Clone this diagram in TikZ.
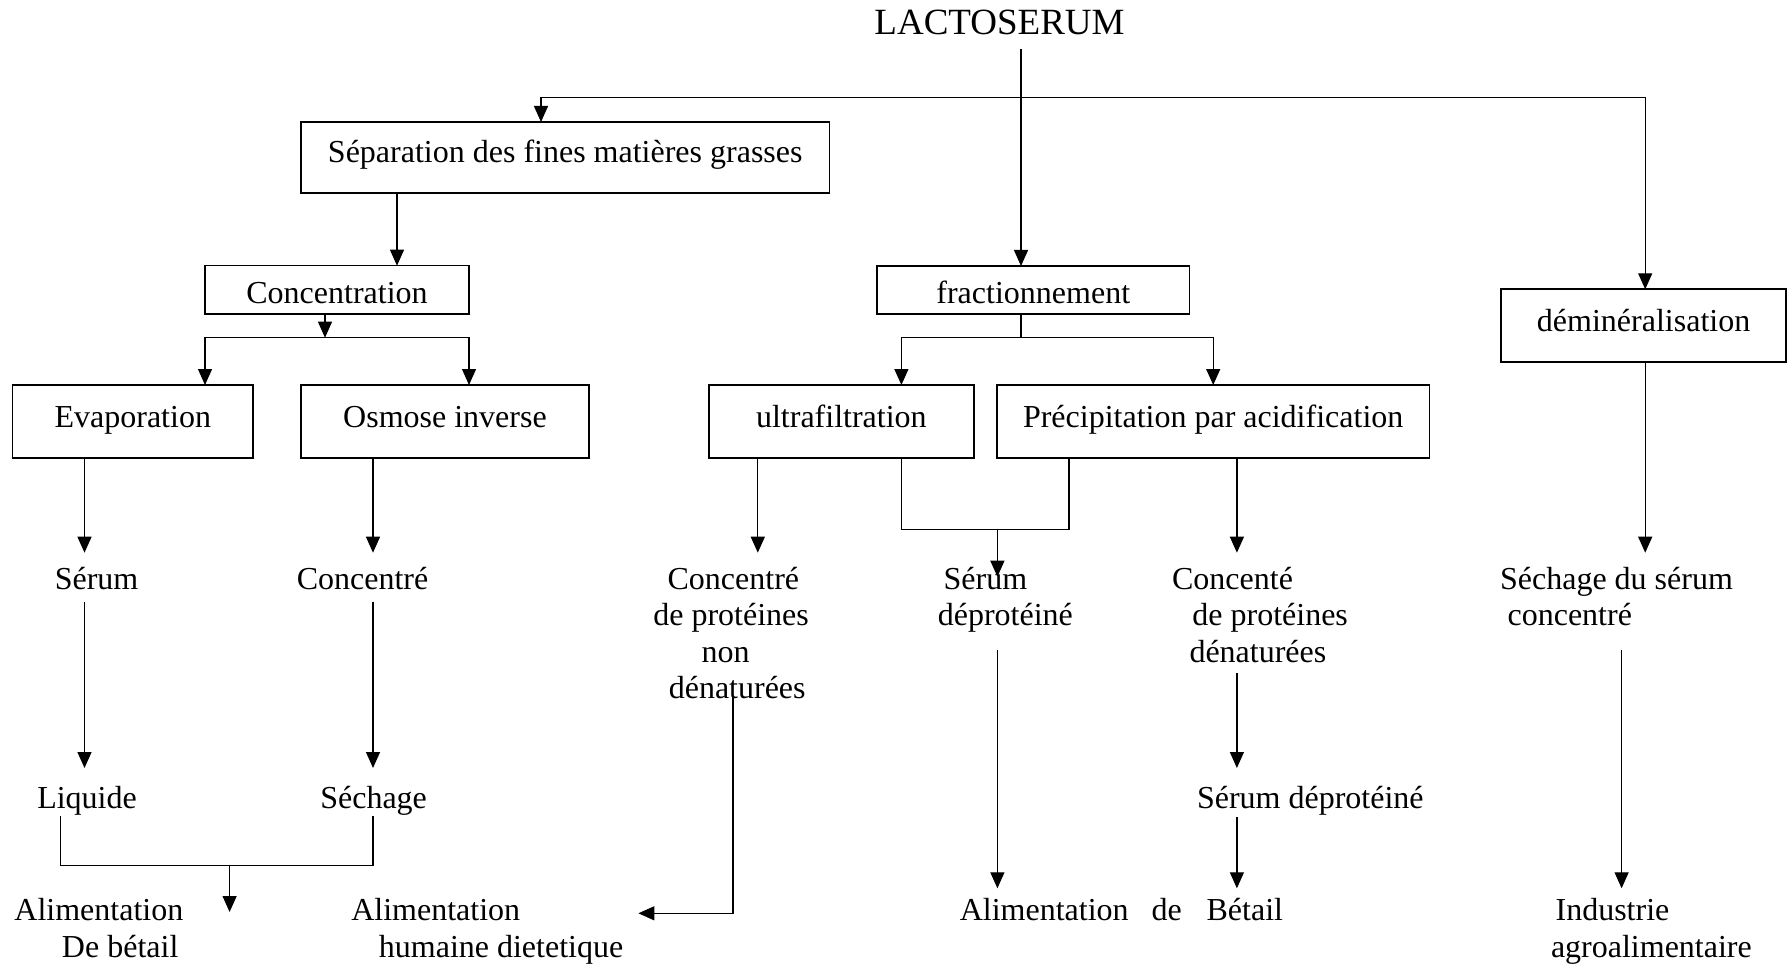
\documentclass[tikz,border=0pt]{standalone}
\usepackage{fontspec}
\setmainfont{Liberation Serif}
\usetikzlibrary{arrows.meta}
% fixed line strut: 24pt above, 8pt below the baseline
\newcommand\Lstr{\rule[-8pt]{0pt}{32pt}}

\begin{document}
\begin{tikzpicture}[x=1pt,y=-1pt,
  every node/.style={font=\fontsize{32pt}{36.5pt}\selectfont},
  box/.style={draw, line width=1.6pt, inner sep=0pt, outer sep=0pt, anchor=north west,
              text height=42pt, text depth=30.7pt},
  lbl/.style={inner sep=0pt, outer sep=0pt, anchor=north west, align=left},
  ln/.style={line width=1.3pt},
  arr/.style={ln, -{Triangle[length=16pt,width=14pt]}},
  arrs/.style={ln, {Triangle[length=16pt,width=14pt]}-{Triangle[length=16pt,width=14pt]}},
]
\useasboundingbox (0,0) rectangle (1787,965);

% ---------- title ----------
\node[inner sep=0pt, outer sep=0pt, anchor=base, font=\fontsize{37pt}{40pt}\selectfont]
  (lacto) at (999.5,35) {\Lstr LACTOSERUM};

% ---------- process boxes ----------
\node[box, minimum width=528.5pt, text height=40.7pt, text depth=30.3pt] (sep) at (301,122)
  {Séparation des fines matières grasses\hspace{14pt}};
\node[box, minimum width=264pt, text height=38.3pt, text depth=10pt] (conc) at (205,265.7) {Concentration};
\node[box, minimum width=312.5pt, text height=38pt, text depth=10pt] (frac) at (877,266) {fractionnement};
\node[box, minimum width=284.8pt, text height=42.4pt, text depth=30pt] (demin) at (1501.2,289.3) {déminéralisation};
\node[box, minimum width=240.4pt] (evap) at (12.6,385) {Evaporation};
\node[box, minimum width=288pt] (osm) at (301,385) {Osmose inverse};
\node[box, minimum width=264.7pt] (ultra) at (709,385) {ultrafiltration};
\node[box, minimum width=432.7pt] (prec) at (996.8,385) {Précipitation par acidification\hspace{12pt}};

% ---------- products ----------
\node[lbl] (serum1) at (54.8,565) {\Lstr Sérum};
\node[lbl] (conc1) at (296.8,565) {\Lstr Concentré};
\node[lbl] (cpn) at (653.3,565) {\Lstr\hspace*{14.3pt}Concentré\\ \Lstr de protéines\\
  \Lstr\hspace*{48.2pt}non\\ \Lstr\hspace*{15.5pt}dénaturées};
\node[lbl] (serum2) at (937.8,565) {\Lstr\hspace*{5.8pt}Sérum\\ \Lstr déprotéiné};
\node[lbl] (cpd) at (1172.1,565) {\Lstr Concenté\\ \Lstr\hspace*{20.3pt}de protéines\\
  \Lstr\hspace*{17.4pt}dénaturées};
\node[lbl] (sech) at (1500.1,565) {\Lstr Séchage du sérum\\ \Lstr\hspace*{7.5pt}concentré};

\node[lbl] (liq) at (37.3,784) {\Lstr Liquide};
\node[lbl] (sechage) at (320.3,784) {\Lstr Séchage};
\node[lbl] (sdp) at (1197,784) {\Lstr Sérum déprotéiné};

\node[lbl] (alim1) at (14.4,896.7) {\Lstr Alimentation\\ \Lstr\hspace*{47.6pt}De bétail};
\node[lbl] (alim2) at (351.3,896.7) {\Lstr Alimentation\\ \Lstr\hspace*{27.6pt}humaine dietetique};
\node[lbl] (alim3) at (959.8,896.7) {\Lstr Alimentation\hspace{23pt}de\hspace{24.7pt}Bétail};
\node[lbl] (ind) at (1551,896.7) {\Lstr\hspace*{4.6pt}Industrie\\ \Lstr agroalimentaire};

% ---------- junction points ----------
\coordinate (tl) at (541,97.5);
\coordinate (tr) at (1645.2,97.5);
\coordinate (cj) at (325,337.7);
\coordinate (fj) at (1021,337.7);
\coordinate (fl) at (901.4,337.7);
\coordinate (fr) at (1213.2,337.7);
\coordinate (bl) at (901.4,529.3);
\coordinate (br) at (1069.1,529.3);
\coordinate (bm) at (997.4,529.3);
\coordinate (ll) at (60.8,865.7);
\coordinate (lr) at (373,865.7);
\coordinate (lm) at (229.6,865.7);

% ---------- top level ----------
\draw[arr, shorten <=6pt] (lacto.south -| fj) -- (frac.north -| fj);
\draw[arrs] (sep.north -| tl) -- (tl) -- (tr) -- (demin.north -| tr);

% ---------- concentration branch ----------
\draw[arr] (sep.south -| 397,0) -- (conc.north -| 397,0);
\draw[arr] (conc.south -| cj) -- (cj);
\draw[arrs] (evap.north -| conc.west) -- (cj -| conc.west) -- (cj -| conc.east) -- (osm.north -| conc.east);

% ---------- fractionnement branch ----------
\draw[ln] (frac.south -| fj) -- (fj);
\draw[arrs] (ultra.north -| fl) -- (fl) -- (fr) -- (prec.north -| fr);

% ---------- boxes to products ----------
\draw[arr, shorten >=12.3pt] (evap.south -| 84.5,0) -- (serum1.north -| 84.5,0);
\draw[arr, shorten >=12.3pt] (osm.south -| 373,0) -- (conc1.north -| 373,0);
\draw[arr, shorten >=12.3pt] (ultra.south -| 757.8,0) -- (cpn.north -| 757.8,0);
\draw[arr, shorten >=12.3pt] (prec.south -| 1236.9,0) -- (cpd.north -| 1236.9,0);
\draw[arr, shorten >=12.3pt] (demin.south -| tr) -- (sech.north -| tr);

\draw[ln] (ultra.south -| bl) -- (bl) -- (br) -- (prec.south -| br);
\draw[arr, shorten >=-11.7pt] (bm) -- (serum2.north -| bm);

% ---------- second level ----------
\draw[arr, shorten <=4.7pt, shorten >=16pt] (serum1.south -| 84.5,0) -- (liq.north -| 84.5,0);
\draw[arr, shorten <=4.7pt, shorten >=16pt] (conc1.south -| 373,0) -- (sechage.north -| 373,0);
\draw[arr, shorten <=3pt, shorten >=16pt] (cpd.south -| 1236.9,0) -- (sdp.north -| 1236.9,0);

% ---------- final uses ----------
\draw[ln] (liq.south -| ll) -- (ll) -- (lr) -- (sechage.south -| lr);
\draw[arr, shorten >=-15.3pt] (lm) -- (alim1.north -| lm);
\draw[arr, shorten <=-9.8pt, shorten >=15.1pt] (cpn.south -| 733,0) |- (alim2.east |- 0,913.3);
\draw[arr, shorten <=16.5pt, shorten >=8.4pt] (serum2.south -| bm) -- (alim3.north -| bm);
\draw[arr, shorten <=1pt, shorten >=8.4pt] (sdp.south -| 1236.9,0) -- (alim3.north -| 1236.9,0);
\draw[arr, shorten <=16.5pt, shorten >=8.4pt] (sech.south -| 1621.6,0) -- (ind.north -| 1621.6,0);

\end{tikzpicture}
\end{document}
